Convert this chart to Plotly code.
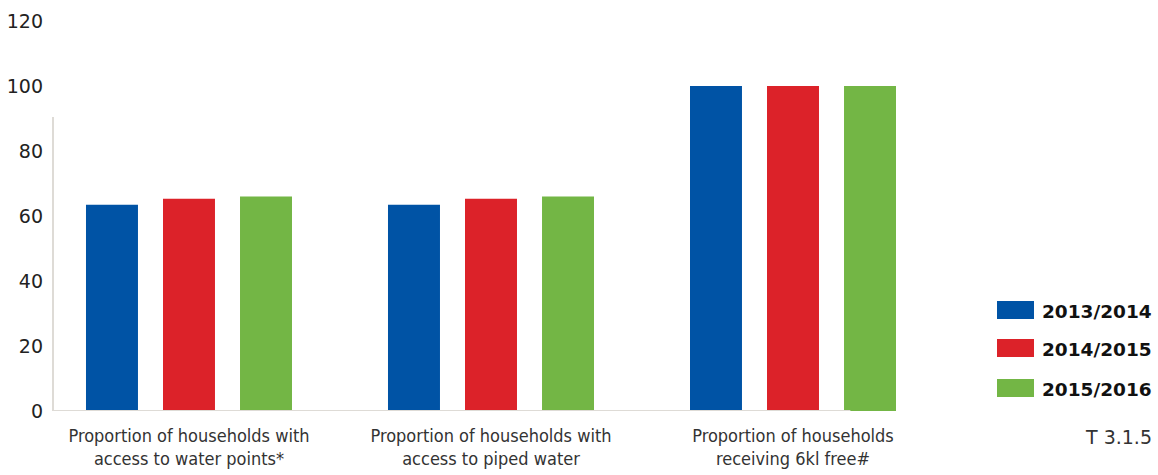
import plotly.graph_objects as go

categories = [
    "Proportion of households with<br>access to water points*",
    "Proportion of households with<br>access to piped water",
    "Proportion of households<br>receiving 6kl free#",
]
series_names = ["2013/2014", "2014/2015", "2015/2016"]
values_2013 = [63.5, 63.5, 100]
values_2014 = [65.3, 65.3, 100]
values_2015 = [66.0, 66.0, 100]
colors = ["#0053A5", "#DC2229", "#73B645"]
y_ticks = [0, 20, 40, 60, 80, 100, 120]
note = "T 3.1.5"

W, H = 1158, 475
L, R, T, B = 53, 258, 21, 64
pw, ph = W - L - R, H - T - B


def px(x):
    return (x - L) / pw


def py(y):
    return (H - B - y) / ph


fig = go.Figure()
for name, vals, col in zip(series_names, [values_2013, values_2014, values_2015], colors):
    fig.add_trace(go.Bar(x=[0, 1, 2], y=vals, name=name, marker=dict(color=col, line=dict(width=0)),
                         showlegend=False))

shapes = [
    dict(type="line", xref="x", yref="y", x0=-0.452, x1=2.19, y0=0, y1=0,
         line=dict(color="#DEDBD6", width=2)),
    dict(type="line", xref="paper", yref="y", x0=0, x1=0, y0=0, y1=90.5,
         line=dict(color="#DEDBD6", width=2)),
]
annotations = []
rows_y = [311, 349, 389]
for name, col, ry in zip(series_names, colors, rows_y):
    shapes.append(dict(type="rect", xref="paper", yref="paper", x0=px(997), x1=px(1034),
                       y0=py(ry - 1 - 9), y1=py(ry - 1 + 9), fillcolor=col, line=dict(width=0)))
    annotations.append(dict(xref="paper", yref="paper", x=px(1154), y=py(ry), xanchor="right",
                            yanchor="middle", text="<b>" + name + "</b>", showarrow=False,
                            font=dict(family="DejaVu Sans", size=18.5, color="#111111")))
annotations.append(dict(xref="paper", yref="paper", x=px(1154), y=py(437), xanchor="right",
                        yanchor="middle", text=note, showarrow=False,
                        font=dict(family="DejaVu Sans", size=19, color="#333333")))

fig.update_layout(
    width=W, height=H,
    margin=dict(l=L, r=R, t=T, b=B, pad=0, autoexpand=False),
    paper_bgcolor="white", plot_bgcolor="white",
    barmode="group", bargap=0.235, bargroupgap=0.325,
    xaxis=dict(range=[-0.4503, 2.3543], tickmode="array", tickvals=[0, 1, 2], ticktext=categories,
               showgrid=False, zeroline=False, showline=False, ticks="", automargin=False,
               tickfont=dict(family="Liberation Sans Narrow, DejaVu Sans Condensed", size=18, color="#333333"),
               ticklabelstandoff=12),
    yaxis=dict(range=[0, 120], tickmode="array", tickvals=y_ticks, showgrid=False, zeroline=False,
               showline=False, ticks="", ticklabelstandoff=9, automargin=False,
               tickfont=dict(family="DejaVu Sans", size=19, color="#222222")),
    shapes=shapes, annotations=annotations,
)
fig.write_html("out.html")
